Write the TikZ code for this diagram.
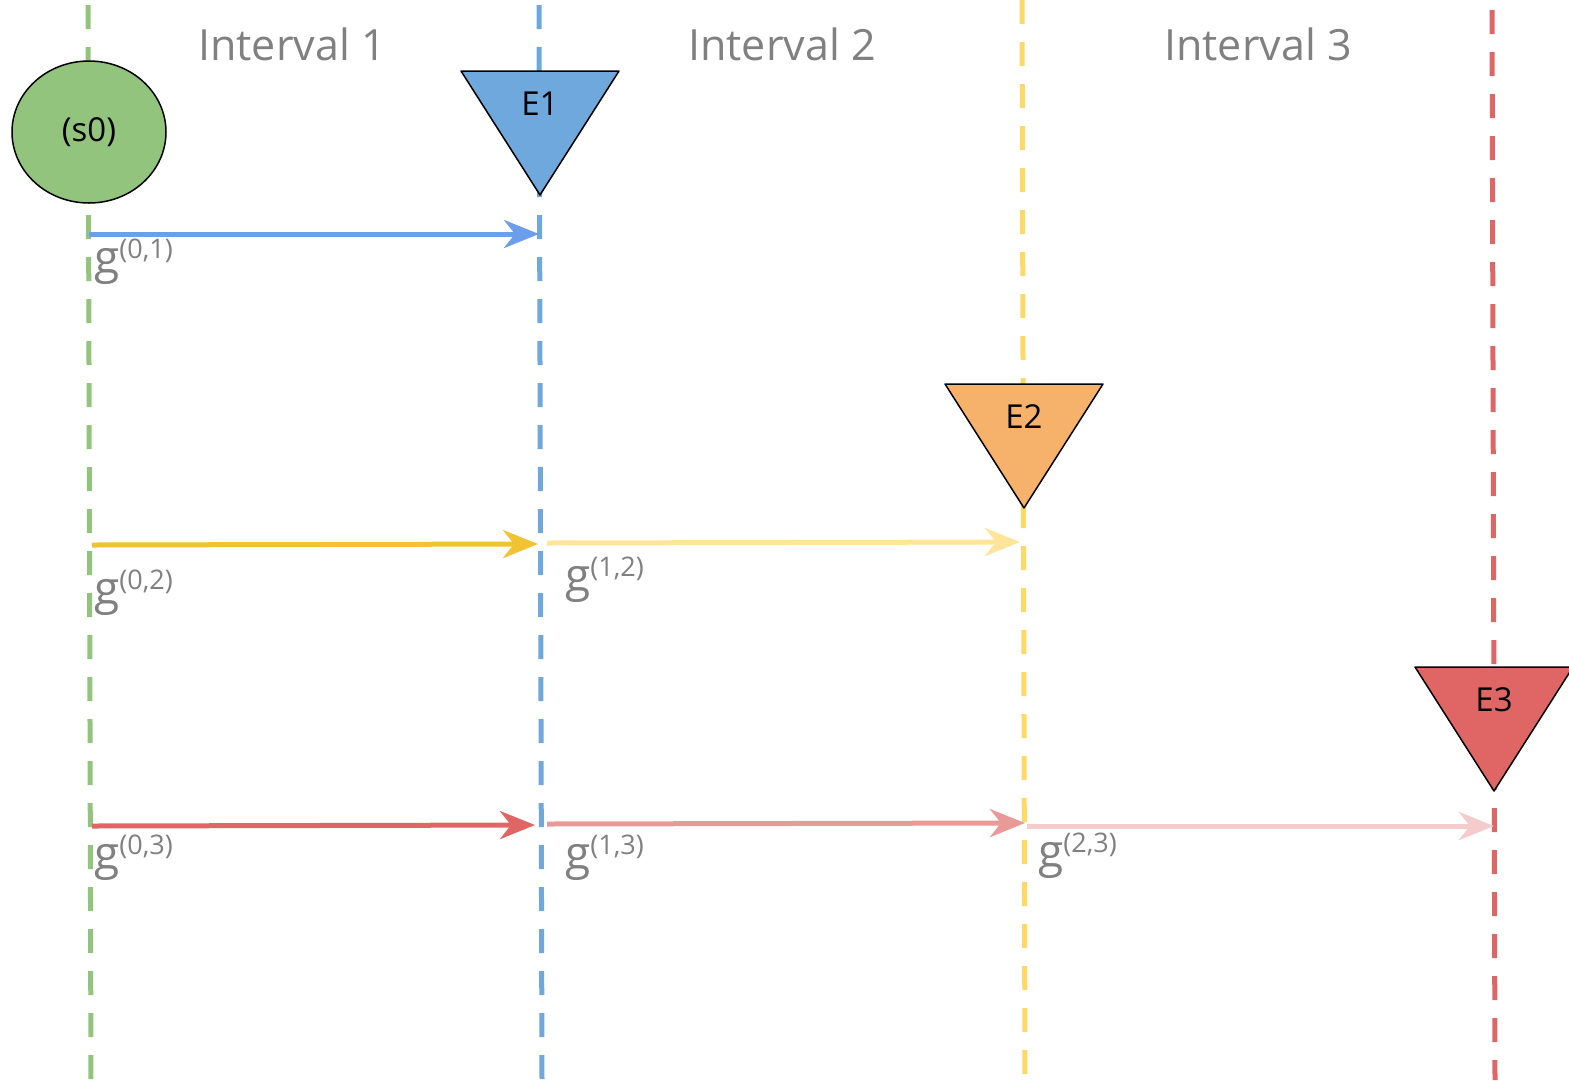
\documentclass[tikz,border=0pt]{standalone}
\usepackage{fontspec}
\setmainfont{Open Sans}
\usetikzlibrary{arrows.meta,shapes.geometric}

\definecolor{lgreen}{HTML}{93C47D}
\definecolor{lblue}{HTML}{6FA8DC}
\definecolor{lyellow}{HTML}{FFD966}
\definecolor{lred}{HTML}{E06666}
\definecolor{forange}{HTML}{F6B26B}
\definecolor{ablue}{HTML}{6D9EEB}
\definecolor{ayellow}{HTML}{F1C232}
\definecolor{ayellowl}{HTML}{FFE599}
\definecolor{aredl}{HTML}{EA9999}
\definecolor{aredll}{HTML}{F4CCCC}
\definecolor{txtgray}{HTML}{808080}

\newcommand{\gsup}[1]{{\fontsize{46}{46}\selectfont g}\raisebox{15pt}{\fontsize{27}{27}\selectfont(#1)}}

\begin{document}
\begin{tikzpicture}
  [x=1pt,y=-1pt,
   timeline/.style={line width=5pt,dash pattern=on 24pt off 18pt},
   flow/.style={line width=5pt,-{Stealth[length=35pt,width=28pt,inset=11pt]}},
   event/.style={draw=black,line width=1.5pt,line join=round},
   interval/.style={text=txtgray,font=\fontsize{43}{43}\selectfont},
   glabel/.style={text=txtgray,anchor=base west,inner sep=0pt}]
  \useasboundingbox (0,0) rectangle (1569,1080);

  % time lines
  \coordinate (t0) at (88,5);    \coordinate (b0) at (91,1080);
  \coordinate (t1) at (539,5);   \coordinate (b1) at (542,1080);
  \coordinate (t2) at (1022,0);  \coordinate (b2) at (1025,1080);
  \coordinate (t3) at (1492,10); \coordinate (b3) at (1495,1080);
  \foreach \from/\to/\c in {t0/b0/lgreen, t1/b1/lblue, t2/b2/lyellow, t3/b3/lred}
    \draw[timeline,\c] (\from) -- (\to);

  \node[interval] (int1) at (292,44) {Interval 1};
  \node[interval] (int2) at (782,44) {Interval 2};
  \node[interval] (int3) at (1258,44) {Interval 3};

  \node (s0) at (89,132) [ellipse,event,fill=lgreen,minimum width=154pt,
    minimum height=142pt,font=\fontsize{33}{33}\selectfont] {(s0)};

  % events
  \foreach \n/\x/\y/\c in {1/540/71/lblue, 2/1024/384/forange, 3/1494/667/lred}
  {
    \draw[event,fill=\c] (\x-79,\y) -- (\x+79,\y) -- (\x,\y+124) -- cycle;
    \node (e\n) at (\x,\y+33) [font=\fontsize{33}{33}\selectfont] {E\n};
  }

  % arrows
  \coordinate (p01a) at (89,234);   \coordinate (p01b) at (539,234);
  \coordinate (p02a) at (92,545);   \coordinate (p02b) at (538,544);
  \coordinate (p12a) at (547,543);  \coordinate (p12b) at (1020,542);
  \coordinate (p03a) at (92,826);   \coordinate (p03b) at (535,825);
  \coordinate (p13a) at (547,824);  \coordinate (p13b) at (1025,823);
  \coordinate (p23a) at (1027,826); \coordinate (p23b) at (1494,826);
  \foreach \i/\c in {01/ablue, 02/ayellow, 12/ayellowl, 03/lred, 13/aredl, 23/aredll}
    \draw[flow,\c] (p\i a) -- (p\i b);

  \node[glabel] (g01) at (94,273) {\gsup{0,1}};
  \node[glabel] (g02) at (94,604) {\gsup{0,2}};
  \node[glabel] (g12) at (565,591) {\gsup{1,2}};
  \node[glabel] (g03) at (94,869) {\gsup{0,3}};
  \node[glabel] (g13) at (565,869) {\gsup{1,3}};
  \node[glabel] (g23) at (1038,867) {\gsup{2,3}};
\end{tikzpicture}
\end{document}
